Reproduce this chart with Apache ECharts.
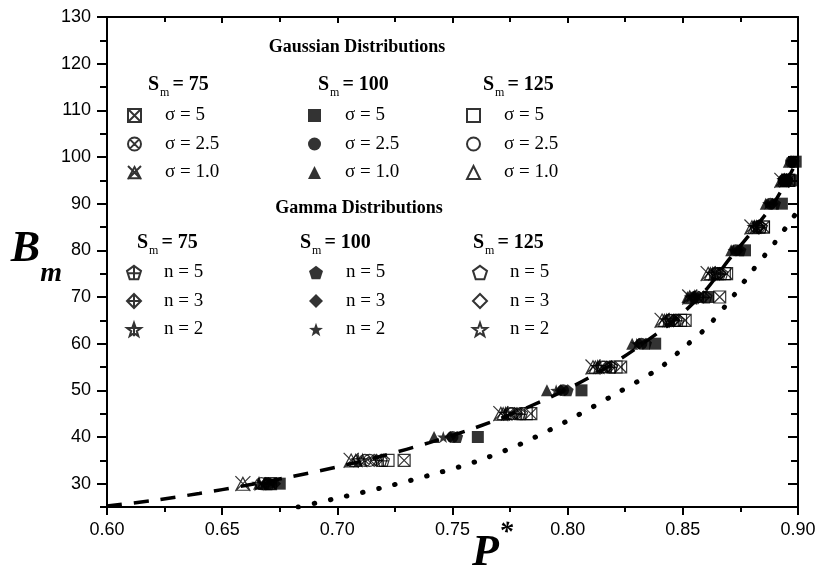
<!DOCTYPE html>
<html>
<head>
<meta charset="utf-8">
<script src="https://cdn.jsdelivr.net/npm/echarts@6/dist/echarts.min.js"></script>
<style>
html, body { margin: 0; padding: 0; background: #fff; }
#main { width: 819px; height: 573px; }
</style>
</head>
<body>
<div id="main"></div>
<script>
// B_m levels at which each S_m group was computed
const bm75 = [30, 35, 45, 55, 65, 70, 75, 85, 95];
const bm100 = [30, 40, 50, 60, 70, 80, 90, 95, 99];
const bm125 = [35, 45, 55, 65, 75, 85, 95];

// P*, one array per series (same order as the B_m levels)
const gau75s5 = [0.671, 0.729, 0.784, 0.823, 0.851, 0.866, 0.869, 0.885, 0.896];
const gau75s25 = [0.667, 0.712, 0.775, 0.815, 0.844, 0.856, 0.864, 0.882, 0.894];
const gau75s1 = [0.659, 0.706, 0.771, 0.811, 0.841, 0.853, 0.861, 0.880, 0.893];
const gau100s5 = [0.675, 0.761, 0.806, 0.838, 0.861, 0.877, 0.893, 0.897, 0.899];
const gau100s25 = [0.670, 0.750, 0.798, 0.832, 0.855, 0.873, 0.888, 0.894, 0.897];
const gau100s1 = [0.666, 0.742, 0.791, 0.828, 0.852, 0.871, 0.886, 0.893, 0.896];
const gau125s5 = [0.722, 0.782, 0.821, 0.849, 0.868, 0.885, 0.896];
const gau125s25 = [0.714, 0.776, 0.816, 0.845, 0.865, 0.883, 0.895];
const gau125s1 = [0.708, 0.772, 0.812, 0.842, 0.862, 0.881, 0.894];

const gam75n5 = [0.670, 0.720, 0.780, 0.819, 0.848, 0.860, 0.867, 0.884, 0.895];
const gam75n3 = [0.669, 0.717, 0.778, 0.818, 0.846, 0.859, 0.866, 0.883, 0.895];
const gam75n2 = [0.666, 0.709, 0.773, 0.813, 0.843, 0.855, 0.863, 0.881, 0.894];
const gam100n5 = [0.671, 0.752, 0.800, 0.834, 0.857, 0.875, 0.890, 0.895, 0.898];
const gam100n3 = [0.673, 0.749, 0.797, 0.831, 0.855, 0.874, 0.889, 0.895, 0.898];
const gam100n2 = [0.668, 0.746, 0.795, 0.830, 0.853, 0.872, 0.887, 0.894, 0.897];
const gam125n5 = [0.719, 0.779, 0.819, 0.847, 0.866, 0.884, 0.895];
const gam125n3 = [0.716, 0.777, 0.817, 0.846, 0.865, 0.883, 0.895];
const gam125n2 = [0.711, 0.774, 0.814, 0.844, 0.864, 0.882, 0.894];

// dashed fit curve and dotted curve
const fitX = [0.60, 0.62, 0.64, 0.66, 0.68, 0.70, 0.72, 0.74, 0.76, 0.78, 0.80, 0.82, 0.84, 0.85, 0.86, 0.87, 0.88, 0.89, 0.90];
const fitY = [25.2, 26.4, 27.9, 29.6, 31.5, 33.6, 36.0, 38.8, 42.0, 45.8, 50.3, 55.8, 62.6, 66.6, 71.5, 78.0, 84.0, 90.5, 99.5];
const dotX = [0.683, 0.70, 0.72, 0.74, 0.76, 0.78, 0.80, 0.82, 0.84, 0.85, 0.86, 0.87, 0.88, 0.89, 0.90];
const dotY = [25.0, 26.9, 29.2, 31.8, 34.7, 38.6, 43.5, 49.0, 54.8, 59.0, 63.3, 69.0, 75.5, 81.7, 88.5];

const yMajor = [30, 40, 50, 60, 70, 80, 90, 100, 110, 120, 130];

const STAR = 'M5 0L6.18 3.38L9.76 3.45L6.9 5.62L7.94 9.05L5 7L2.06 9.05L3.1 5.62L0.24 3.45L3.82 3.38Z';
const PENT = 'M5 0L9.76 3.45L7.94 9.05H2.06L0.24 3.45Z';
const sym = {
    boxX: 'path://M0 0H10V10H0Z M0 0L10 10 M10 0L0 10',
    circX: 'path://M10 5A5 5 0 1 1 0 5A5 5 0 1 1 10 5Z M1.46 1.46L8.54 8.54 M8.54 1.46L1.46 8.54',
    triX: 'path://M5 0.8L9.6 9.4H0.4Z M0 0L10 10 M10 0L0 10',
    pentP: 'path://' + PENT + ' M5 0V9.05 M0.24 5H9.76',
    diaP: 'path://M5 0L10 5L5 10L0 5Z M5 0V10 M0 5H10',
    starP: 'path://' + STAR + ' M5 0V9.05 M0.24 3.45H9.76',
    pent: 'path://' + PENT,
    star: 'path://' + STAR
};

const groups = [
    ['a1|σ = 5', sym.boxX, 'open', gau75s5, bm75],
    ['a2|σ = 2.5', sym.circX, 'open', gau75s25, bm75],
    ['a3|σ = 1.0', sym.triX, 'open', gau75s1, bm75],
    ['b1|σ = 5', 'rect', 'fill', gau100s5, bm100],
    ['b2|σ = 2.5', 'circle', 'fill', gau100s25, bm100],
    ['b3|σ = 1.0', 'triangle', 'fill', gau100s1, bm100],
    ['c1|σ = 5', 'rect', 'open', gau125s5, bm125],
    ['c2|σ = 2.5', 'circle', 'open', gau125s25, bm125],
    ['c3|σ = 1.0', 'triangle', 'open', gau125s1, bm125],
    ['d1|n = 5', sym.pentP, 'open', gam75n5, bm75],
    ['d2|n = 3', sym.diaP, 'open', gam75n3, bm75],
    ['d3|n = 2', sym.starP, 'open', gam75n2, bm75],
    ['e1|n = 5', sym.pent, 'fill', gam100n5, bm100],
    ['e2|n = 3', 'diamond', 'fill', gam100n3, bm100],
    ['e3|n = 2', sym.star, 'fill', gam100n2, bm100],
    ['f1|n = 5', sym.pent, 'open', gam125n5, bm125],
    ['f2|n = 3', 'diamond', 'open', gam125n3, bm125],
    ['f3|n = 2', sym.star, 'open', gam125n2, bm125]
];

const scatterSeries = groups.map(g => ({
    name: g[0],
    type: 'scatter',
    z: 4,
    symbol: g[1],
    symbolSize: g[1] === sym.triX ? 15 : 12,
    itemStyle: g[2] === 'fill'
        ? { color: '#000' }
        : { color: 'rgba(0,0,0,0)', borderColor: '#000', borderWidth: 1.2 },
    data: g[3].map((x, i) => [x, g[4][i]])
}));

const fmtName = name => name.split('|')[1];
function legendCol(keys, left, top, size) {
    return {
        data: keys,
        orient: 'vertical',
        left: left,
        top: top,
        padding: 0,
        itemWidth: size,
        itemHeight: size,
        itemGap: 9.5,
        selectedMode: false,
        formatter: fmtName,
        textStyle: {
            fontFamily: 'Liberation Serif',
            fontSize: 19,
            lineHeight: 18,
            color: '#000',
            padding: [0, 0, 0, 32 - size]
        }
    };
}

const headRich = {
    s: { fontFamily: 'Liberation Serif', fontWeight: 'bold', fontSize: 20, lineHeight: 20, verticalAlign: 'top' },
    sub: { fontFamily: 'Liberation Serif', fontSize: 12, lineHeight: 12, padding: [12, 3, 0, 1], verticalAlign: 'top' },
    t: { fontFamily: 'Liberation Serif', fontWeight: 'bold', fontSize: 20, lineHeight: 20, verticalAlign: 'top' }
};
function headSm(value, x, y) {
    return {
        type: 'text', left: x, top: y, z: 10,
        style: { text: '{s|S}{sub|m}{t|= ' + value + '}', rich: headRich, fill: '#000' }
    };
}
function headTitle(text, cx, y) {
    return {
        type: 'text', x: cx, y: y, z: 10,
        style: {
            text: text, fill: '#000', align: 'center', verticalAlign: 'middle',
            font: 'bold 18px "Liberation Serif"'
        }
    };
}

const blackLine = { lineStyle: { color: '#000', width: 2 } };
const tickStyle = { color: '#000', width: 2 };
const nameFont = { fontFamily: 'Liberation Serif', fontStyle: 'italic', fontWeight: 'bold' };

const chart = echarts.init(document.getElementById('main'));
chart.setOption({
    animation: false,
    backgroundColor: '#fff',
    grid: { left: 107, right: 21, top: 17, bottom: 66, outerBoundsMode: 'none' },
    legend: [
        legendCol(['a1|σ = 5', 'a2|σ = 2.5', 'a3|σ = 1.0'], 127, 106, 13),
        legendCol(['b1|σ = 5', 'b2|σ = 2.5', 'b3|σ = 1.0'], 308, 106, 13),
        legendCol(['c1|σ = 5', 'c2|σ = 2.5', 'c3|σ = 1.0'], 466, 106, 13),
        legendCol(['d1|n = 5', 'd2|n = 3', 'd3|n = 2'], 126, 263, 14),
        legendCol(['e1|n = 5', 'e2|n = 3', 'e3|n = 2'], 309, 263, 14),
        legendCol(['f1|n = 5', 'f2|n = 3', 'f3|n = 2'], 472, 263, 14)
    ],
    graphic: [
        headTitle('Gaussian Distributions', 357, 47),
        headSm(75, 148, 75),
        headSm(100, 318, 75),
        headSm(125, 483, 75),
        headTitle('Gamma Distributions', 359, 208),
        headSm(75, 137, 233),
        headSm(100, 300, 233),
        headSm(125, 473, 233)
    ],
    xAxis: [
        {
            type: 'value', min: 0.6, max: 0.9, interval: 0.05, position: 'bottom',
            axisLine: blackLine,
            axisTick: { length: 8, lineStyle: tickStyle },
            minorTick: { show: true, splitNumber: 2, length: 5, lineStyle: tickStyle },
            splitLine: { show: false },
            axisLabel: {
                formatter: v => v.toFixed(2), color: '#000',
                fontFamily: 'Liberation Sans', fontSize: 18, margin: 14
            },
            name: '{p|P}{s|*}',
            nameLocation: 'middle',
            nameGap: 12,
            nameMoveOverlap: false,
            nameTextStyle: {
                padding: [0, 0, 0, 80],
                rich: {
                    p: Object.assign({ fontSize: 44, lineHeight: 44, padding: [13, 0, 0, 0], verticalAlign: 'top' }, nameFont),
                    s: Object.assign({ fontSize: 28, lineHeight: 28, verticalAlign: 'top' }, nameFont)
                }
            }
        },
        {
            type: 'value', min: 0.6, max: 0.9, interval: 0.05, position: 'top',
            axisLine: blackLine,
            axisTick: { inside: true, length: 6, lineStyle: tickStyle },
            minorTick: { show: true, splitNumber: 2, length: 5, lineStyle: tickStyle },
            splitLine: { show: false },
            axisLabel: { show: false }
        }
    ],
    yAxis: [
        {
            type: 'value', min: 25, max: 130, position: 'left',
            axisLine: blackLine,
            axisTick: { length: 10, customValues: yMajor, lineStyle: tickStyle },
            splitLine: { show: false },
            axisLabel: {
                customValues: yMajor, color: '#000',
                fontFamily: 'Liberation Sans', fontSize: 18, margin: 16
            },
            name: '{b|B}{m|m}',
            nameLocation: 'middle',
            nameRotate: 0,
            nameGap: 45,
            nameMoveOverlap: false,
            nameTextStyle: {
                padding: [0, 0, 28, 0],
                rich: {
                    b: Object.assign({ fontSize: 44, lineHeight: 40, width: 25, verticalAlign: 'top' }, nameFont),
                    m: Object.assign({ fontSize: 28, lineHeight: 28, padding: [32, 0, 0, 0], verticalAlign: 'top' }, nameFont)
                }
            }
        },
        {
            type: 'value', min: 25, max: 130, position: 'right',
            axisLine: blackLine,
            axisTick: { inside: true, length: 10, customValues: yMajor, lineStyle: tickStyle },
            splitLine: { show: false },
            axisLabel: { show: false }
        },
        {
            type: 'value', min: 25, max: 130, interval: 5, position: 'left',
            axisLine: { show: false },
            axisTick: { length: 7, lineStyle: tickStyle },
            splitLine: { show: false },
            axisLabel: { show: false }
        },
        {
            type: 'value', min: 25, max: 130, interval: 5, position: 'right',
            axisLine: { show: false },
            axisTick: { inside: true, length: 7, lineStyle: tickStyle },
            splitLine: { show: false },
            axisLabel: { show: false }
        }
    ],
    series: [
        {
            name: 'fit',
            type: 'line',
            z: 2,
            smooth: 0.3,
            showSymbol: false,
            clip: true,
            lineStyle: { color: '#000', width: 3.5, type: [15, 12] },
            data: fitX.map((x, i) => [x, fitY[i]])
        },
        {
            name: 'dots',
            type: 'line',
            z: 2,
            smooth: 0.3,
            showSymbol: false,
            clip: true,
            lineStyle: { color: '#000', width: 5, type: [0.5, 16], cap: 'round' },
            data: dotX.map((x, i) => [x, dotY[i]])
        }
    ].concat(scatterSeries)
});
</script>
</body>
</html>
